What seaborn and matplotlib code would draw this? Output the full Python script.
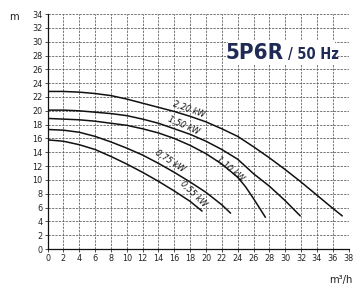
import matplotlib
matplotlib.use("Agg")
import matplotlib.pyplot as plt
import seaborn as sns
import pandas as pd
from matplotlib.patches import Rectangle

sns.set_theme(style="white")
plt.rcParams['font.family'] = ['DejaVu Sans']
plt.rcParams['font.stretch'] = 'condensed'

# ---- data ----
q_055 = [0, 2, 4, 6, 8, 10, 12, 14, 16, 18, 19.5]
h_055 = [15.8, 15.6, 15.1, 14.4, 13.4, 12.3, 11.1, 9.8, 8.4, 6.9, 5.5]

q_075 = [0, 2, 4, 6, 8, 10, 12, 14, 16, 18, 20, 22, 23.1]
h_075 = [17.3, 17.2, 16.9, 16.3, 15.5, 14.6, 13.6, 12.4, 11.1, 9.7, 8.2, 6.4, 5.2]

q_110 = [0, 2, 4, 6, 8, 10, 12, 14, 16, 18, 20, 22, 24, 25, 26, 27.5]
h_110 = [18.9, 18.8, 18.7, 18.5, 18.2, 17.9, 17.4, 16.8, 16.0, 15.0, 13.8,
         12.3, 10.4, 9.0, 7.3, 4.6]

q_150 = [0, 2, 4, 6, 8, 10, 12, 14, 16, 18, 20, 22, 24, 26, 28, 30, 31.9]
h_150 = [20.1, 20.1, 20.0, 19.8, 19.6, 19.3, 18.8, 18.2, 17.4, 16.6, 15.6,
         14.4, 13.0, 10.9, 9.1, 7.0, 4.8]

q_220 = [0, 2, 4, 6, 8, 10, 12, 14, 16, 18, 20, 22, 24, 26, 28, 30, 32, 34,
         36, 37.2]
h_220 = [22.8, 22.8, 22.7, 22.5, 22.2, 21.7, 21.1, 20.5, 19.9, 19.2, 18.4,
         17.4, 16.3, 14.8, 13.2, 11.5, 9.7, 7.8, 5.9, 4.8]

series_names = ["0,55 kW", "0,75 kW", "1,10 kW", "1,50 kW", "2,20 kW"]
series_q = [q_055, q_075, q_110, q_150, q_220]
series_h = [h_055, h_075, h_110, h_150, h_220]

x_ticks = list(range(0, 40, 2))
y_ticks = list(range(0, 36, 2))

# curve label placement (x, y, rotation)
label_x = [18.4, 15.5, 23.0, 17.2, 17.9]
label_y = [7.9, 12.7, 11.6, 17.9, 20.2]
label_rot = [-44, -33, -40, -24, -20]

title_main = "5P6R"
title_sub = "/ 50 Hz"

rows = []
for name, qs, hs in zip(series_names, series_q, series_h):
    for q, h in zip(qs, hs):
        rows.append({"Q": q, "H": h, "motor": name})
df = pd.DataFrame(rows)

fig = plt.figure(figsize=(3.55, 2.86), dpi=100)
ax = fig.add_axes([0.134, 0.129, 0.848, 0.822])

sns.lineplot(data=df, x="Q", y="H", hue="motor", palette=["#111111"] * 5,
             legend=False, ax=ax, linewidth=1.1, sort=False, estimator=None)

ax.set_xlim(0, 38)
ax.set_ylim(0, 34)
ax.set_xticks(x_ticks)
ax.set_yticks(y_ticks)
ax.set_xticklabels([str(t) for t in x_ticks], fontsize=6.5, color="#222222")
ax.set_yticklabels([str(t) for t in y_ticks], fontsize=6.5, color="#222222")
ax.tick_params(axis="both", length=2, width=0.6, pad=1.5, color="#333333",
               bottom=True, left=True)
ax.set_xlabel("")
ax.set_ylabel("")

ax.grid(True, which="major", color="#555555", linestyle=(0, (3, 1.5)),
        linewidth=0.55)
for side in ["top", "right"]:
    ax.spines[side].set_visible(False)
for side in ["left", "bottom"]:
    ax.spines[side].set_color("#111111")
    ax.spines[side].set_linewidth(0.9)

for name, lx, ly, rot in zip(series_names, label_x, label_y, label_rot):
    ax.text(lx, ly, name, rotation=rot, rotation_mode="anchor",
            ha="center", va="center", fontsize=6.5, style="italic",
            color="#111111")

# title box
ax.add_patch(Rectangle((0.60, 0.785), 0.355, 0.105, transform=ax.transAxes,
                       facecolor="white", edgecolor="none", zorder=3))
ax.text(0.785, 0.835, title_main, transform=ax.transAxes, ha="right",
        va="center", fontsize=16, fontweight="bold", color="#1f2a55",
        fontstretch="condensed", zorder=4)
ax.text(0.80, 0.828, title_sub, transform=ax.transAxes, ha="left",
        va="center", fontsize=10.5, fontweight="bold", color="#1f2a55",
        fontstretch="condensed", zorder=4)

fig.text(14 / 355, 1 - 17 / 286, "m", ha="center", va="center", fontsize=8,
         color="#222222")
fig.text(352 / 355, 1 - 280 / 286, "m³/h", ha="right", va="center",
         fontsize=8, color="#222222")

fig.savefig("out.png", dpi=100)
